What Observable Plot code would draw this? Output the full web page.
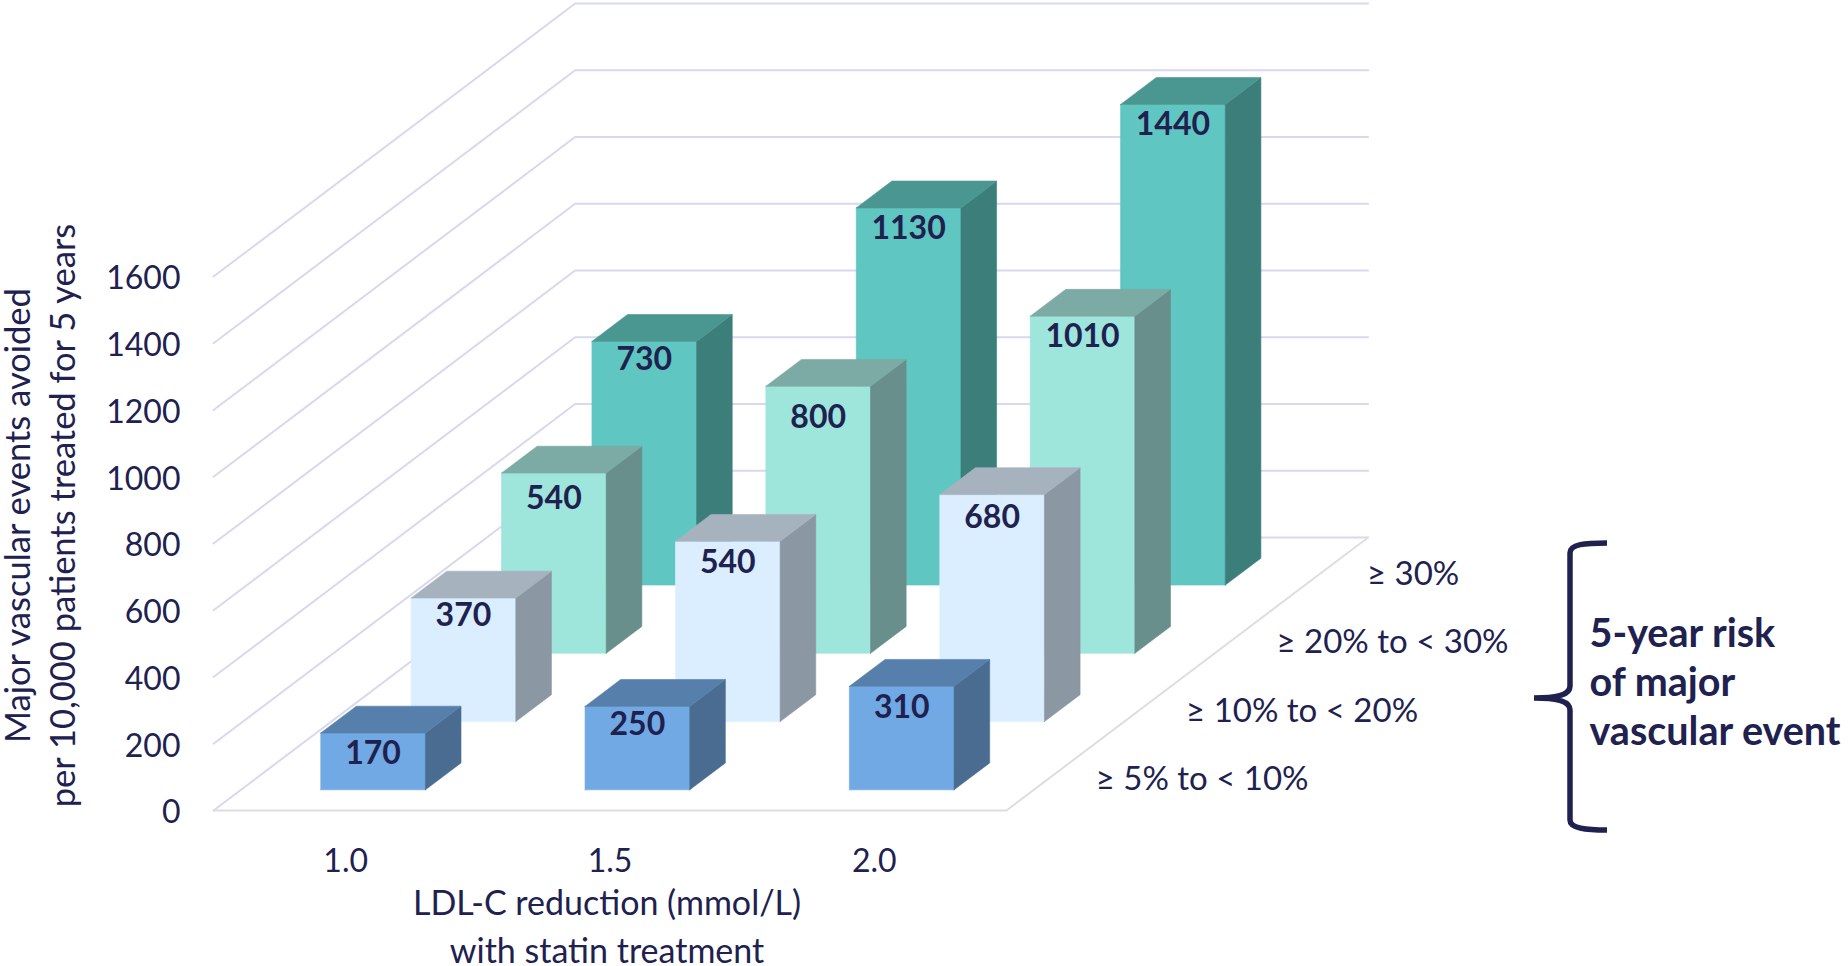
<!DOCTYPE html>
<html>
<head>
<meta charset="utf-8">
<style>
  html, body { margin: 0; padding: 0; background: #fff; }
  svg { display: block; }
</style>
<script src="https://cdn.jsdelivr.net/npm/d3@7"></script>
<script src="https://cdn.jsdelivr.net/npm/@observablehq/plot@0.6"></script>
</head>
<body>
<script>
// Events avoided per 10,000 patients, one list per risk band, ordered by LDL-C reduction.
const ldlReductions = [1.0, 1.5, 2.0];
const riskLabels = ["≥ 5% to < 10%", "≥ 10% to < 20%", "≥ 20% to < 30%", "≥ 30%"];
const risk5to10 = [170, 250, 310];
const risk10to20 = [370, 540, 680];
const risk20to30 = [540, 800, 1010];
const risk30plus = [730, 1130, 1440];
const valueTicks = [0, 200, 400, 600, 800, 1000, 1200, 1400, 1600];

const seriesByRisk = [risk5to10, risk10to20, risk20to30, risk30plus];

// Shades of each band: front, top and side faces.
const faceColors = [
  {front: "#70a9e3", top: "#5680ab", side: "#4a6c91"},
  {front: "#dbeeff", top: "#a6b3bf", side: "#8b97a3"},
  {front: "#9ee5dc", top: "#7caba6", side: "#688f8c"},
  {front: "#5fc6c2", top: "#4a9791", side: "#3c7e7a"}
];

// Oblique projection: depth runs 0 (front of floor) to 1 (back wall) and shifts
// a point right and up by fixed amounts expressed in data units.
const ldlSkew = 0.684;
const valueSkew = 818;
const ldlMin = 0.75;
const ldlMax = 2.25;
const barWidth = 0.198;
const barDepth = 0.0985;
const rowDepth = 1 / riskLabels.length;

const project = (ldl, value, depth) => ({px: ldl + depth * ldlSkew, py: value + depth * valueSkew});

// Wall grid: one polyline per value level, along the side wall then the back wall.
const gridPoints = valueTicks.flatMap((level) =>
  [[ldlMin, 0], [ldlMin, 1], [ldlMax, 1]].map(([l, d]) => ({level, ...project(l, level, d)}))
);

// Front and right edges of the floor.
const floorEdge = [[ldlMin, 0], [ldlMax, 0], [ldlMax, 1]].map(([l, d]) => project(l, 0, d));

// Three visible faces per bar, painted from the back row to the front row.
const faces = [];
const labels = [];
// Vertical label offsets below the top of each front face.
const labelDrop = [[21, 18, 21], [18, 21, 23], [26, 31, 21], [18, 21, 20]];
for (let row = riskLabels.length - 1; row >= 0; --row) {
  const d0 = row * rowDepth + (rowDepth - barDepth) / 2;
  const d1 = d0 + barDepth;
  seriesByRisk[row].forEach((value, i) => {
    const x0 = ldlReductions[i] - barWidth / 2;
    const x1 = ldlReductions[i] + barWidth / 2;
    const quads = {
      front: [[x0, 0, d0], [x1, 0, d0], [x1, value, d0], [x0, value, d0]],
      side: [[x1, 0, d0], [x1, 0, d1], [x1, value, d1], [x1, value, d0]],
      top: [[x0, value, d0], [x1, value, d0], [x1, value, d1], [x0, value, d1]]
    };
    for (const [name, corners] of Object.entries(quads)) {
      const id = `${row}-${i}-${name}`;
      for (const [l, v, d] of [...corners, corners[0]]) {
        faces.push({id, color: faceColors[row][name], ...project(l, v, d)});
      }
    }
    labels.push({value, drop: labelDrop[row][i], ...project(ldlReductions[i], value, d0)});
  });
}

const riskTicks = riskLabels.map((label, row) => ({label, ...project(ldlMax, 0, (row + 0.5) * rowDepth)}));

const ink = "#20214f";
const fontFamily = "Lato, sans-serif";

// Curly brace grouping the risk bands.
const brace = () => {
  const path = d3.create("svg:path")
    .attr("d", "M1607 543 C1585 543 1570 544 1570 553 L1570 686 C1570 694 1560 698 1534 698 C1560 698 1570 702 1570 710 L1570 820 C1570 828 1585 830 1607 830")
    .attr("fill", "none")
    .attr("stroke", ink)
    .attr("stroke-width", 5.5);
  return path.node();
};

const chart = Plot.plot({
  width: 1848,
  height: 966,
  marginLeft: 213,
  marginRight: 842,
  marginTop: 276,
  marginBottom: 156,
  style: {fontFamily, background: "#fff", color: ink, overflow: "visible"},
  x: {domain: [ldlMin, ldlMax]},
  y: {domain: [0, 1600]},
  color: {type: "identity"},
  marks: [
    Plot.line(gridPoints, {x: "px", y: "py", z: "level", stroke: "#d8d8ee", strokeWidth: 2}),
    Plot.line(floorEdge, {x: "px", y: "py", stroke: "#dedee2", strokeWidth: 2}),
    Plot.line(faces, {x: "px", y: "py", z: "id", fill: "color", stroke: "color", strokeWidth: 0.6}),
    ...d3.groups(labels, (d) => d.drop).map(([drop, group]) =>
      Plot.text(group, {
        x: "px", y: "py", dy: drop, text: (d) => `${d.value}`,
        fontSize: 32, fontWeight: 700, fill: ink
      })
    ),
    Plot.axisY({
      anchor: "left", ticks: valueTicks, tickSize: 0, tickPadding: 33, label: null, dy: 2.5,
      tickFormat: (d) => `${d}`, fontSize: 32, fill: ink
    }),
    Plot.axisX({
      anchor: "bottom", ticks: ldlReductions, tickSize: 0, tickPadding: 39, label: null,
      tickFormat: (d) => d.toFixed(1), fontSize: 32, fill: ink
    }),
    Plot.text(riskTicks, {
      x: "px", y: "py", text: "label", textAnchor: "start", dx: 44, dy: 3,
      fontSize: 33, fill: ink
    }),
    Plot.text(["LDL-C reduction (mmol/L)\nwith statin treatment"], {
      frameAnchor: "bottom", dx: -3, dy: 113, lineAnchor: "middle", lineHeight: 1.41,
      fontSize: 34, fill: ink
    }),
    Plot.text(["Major vascular events avoided\nper 10,000 patients treated for 5 years"], {
      frameAnchor: "left", textAnchor: "middle", rotate: -90, dx: -175, dy: -28, lineHeight: 1.3,
      fontSize: 34.5, fill: ink
    }),
    Plot.text(["5-year risk\nof major\nvascular event"], {
      frameAnchor: "right", textAnchor: "start", dx: 583, dy: 137, lineHeight: 1.24,
      fontSize: 39.5, fontWeight: 700, fill: ink
    }),
    brace
  ]
});

document.body.appendChild(chart);
</script>
</body>
</html>
